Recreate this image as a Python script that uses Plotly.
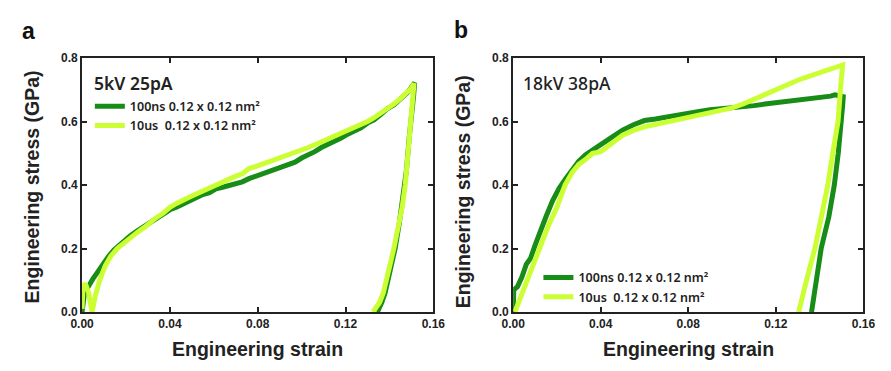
import plotly.graph_objects as go

W, H = 891, 371

# ---------------- data ----------------
# Panel a (5kV 25pA)
a_ns_x = [0.0, 0.0004, 0.0010, 0.0020, 0.0035, 0.005, 0.007, 0.0093, 0.012, 0.0145, 0.0168, 0.019, 0.022,
          0.025, 0.028, 0.031, 0.034, 0.037, 0.040, 0.043, 0.046, 0.049, 0.052, 0.055, 0.058, 0.061,
          0.064, 0.067, 0.070, 0.073, 0.076, 0.079, 0.082, 0.085, 0.088, 0.091, 0.094, 0.097, 0.100,
          0.103, 0.106, 0.109, 0.112, 0.115, 0.118, 0.121, 0.124, 0.127, 0.130, 0.133, 0.136, 0.139,
          0.142, 0.145, 0.148, 0.150, 0.1515,
          0.1510, 0.1500, 0.1490, 0.1478, 0.1462, 0.1445, 0.1426, 0.1410, 0.1396, 0.1380, 0.1365, 0.1345]
a_ns_y = [0.0, 0.03, 0.055, 0.07, 0.09, 0.105, 0.125, 0.15, 0.175, 0.195, 0.21, 0.225, 0.24,
          0.255, 0.268, 0.28, 0.295, 0.31, 0.322, 0.33, 0.34, 0.352, 0.36, 0.37, 0.376, 0.388,
          0.393, 0.398, 0.406, 0.41, 0.42, 0.428, 0.433, 0.44, 0.45, 0.458, 0.465, 0.472, 0.485,
          0.494, 0.505, 0.518, 0.527, 0.537, 0.548, 0.56, 0.568, 0.58, 0.595, 0.605, 0.622, 0.64,
          0.652, 0.67, 0.69, 0.708, 0.722,
          0.68, 0.62, 0.55, 0.45, 0.36, 0.28, 0.2, 0.15, 0.1, 0.06, 0.03, 0.0]

a_us_x = [0.0, 0.0004, 0.0015, 0.0030, 0.0040, 0.0046, 0.0060, 0.0080, 0.0105, 0.013, 0.016, 0.019,
          0.022, 0.025, 0.028, 0.031, 0.034, 0.037, 0.040, 0.043, 0.046, 0.049, 0.052, 0.055, 0.058,
          0.061, 0.064, 0.067, 0.070, 0.073, 0.076, 0.079, 0.082, 0.085, 0.088, 0.091, 0.094, 0.097,
          0.100, 0.103, 0.106, 0.109, 0.112, 0.115, 0.118, 0.121, 0.124, 0.127, 0.130, 0.133, 0.136,
          0.139, 0.142, 0.145, 0.148, 0.150, 0.1512,
          0.1505, 0.1494, 0.1484, 0.1472, 0.1458, 0.1440, 0.1420, 0.1403, 0.1388, 0.1372, 0.1355, 0.1325]
a_us_y = [0.01, 0.08, 0.09, 0.06, 0.02, 0.0, 0.05, 0.1, 0.145, 0.175, 0.2, 0.218,
          0.235, 0.25, 0.265, 0.283, 0.298, 0.312, 0.33, 0.342, 0.35, 0.362, 0.372, 0.382, 0.39,
          0.402, 0.41, 0.418, 0.428, 0.435, 0.452, 0.458, 0.465, 0.472, 0.48, 0.488, 0.495, 0.503,
          0.51, 0.518, 0.527, 0.536, 0.545, 0.553, 0.562, 0.57, 0.578, 0.588, 0.6, 0.612, 0.625,
          0.64, 0.655, 0.672, 0.69, 0.705, 0.72,
          0.66, 0.6, 0.5, 0.4, 0.33, 0.26, 0.2, 0.15, 0.1, 0.06, 0.03, 0.0]

# Panel b (18kV 38pA)
b_ns_x = [0.0, 0.0003, 0.002, 0.004, 0.006, 0.008, 0.010, 0.012, 0.015, 0.018, 0.021, 0.024, 0.027,
          0.030, 0.033, 0.036, 0.040, 0.045, 0.050, 0.055, 0.060, 0.065, 0.070, 0.075, 0.080, 0.085,
          0.090, 0.095, 0.100, 0.105, 0.110, 0.115, 0.120, 0.125, 0.130, 0.135, 0.140, 0.145, 0.147,
          0.149, 0.1508,
          0.1505, 0.1499, 0.1485, 0.1467, 0.1442, 0.1407, 0.1385, 0.1363]
b_ns_y = [0.0, 0.07, 0.08, 0.11, 0.15, 0.17, 0.21, 0.25, 0.3, 0.35, 0.39, 0.42, 0.45,
          0.475, 0.495, 0.51, 0.527, 0.55, 0.573, 0.59, 0.603, 0.608, 0.615, 0.62, 0.628, 0.632,
          0.637, 0.64, 0.643, 0.645, 0.65, 0.655, 0.659, 0.662, 0.668, 0.672, 0.676, 0.68, 0.684,
          0.679, 0.678,
          0.65, 0.6, 0.5, 0.4, 0.3, 0.2, 0.1, 0.0]

b_us_x = [0.0008, 0.003, 0.005, 0.008, 0.010, 0.013, 0.016, 0.020, 0.0237, 0.027, 0.030, 0.033,
          0.0363, 0.040, 0.045, 0.050, 0.055, 0.060, 0.070, 0.080, 0.090, 0.100, 0.105, 0.110,
          0.115, 0.120, 0.125, 0.130, 0.135, 0.140, 0.145, 0.149, 0.1505,
          0.1495, 0.1484, 0.1460, 0.1437, 0.1408, 0.1378, 0.1340, 0.1304]
b_us_y = [0.0, 0.04, 0.08, 0.13, 0.17, 0.22, 0.27, 0.33, 0.4, 0.44, 0.465, 0.48,
          0.5, 0.505, 0.53, 0.557, 0.572, 0.583, 0.598, 0.613, 0.628, 0.643, 0.655, 0.67,
          0.685, 0.704, 0.718, 0.73, 0.742, 0.754, 0.765, 0.772, 0.778,
          0.7, 0.6, 0.5, 0.4, 0.3, 0.2, 0.1, 0.0]

series_names = ["100ns 0.12 x 0.12 nm²", "10us  0.12 x 0.12 nm²"]
panel_titles = ["5kV 25pA", "18kV 38pA"]
x_title = "Engineering strain"
y_title = "Engineering stress (GPa)"
x_ticks = [0.0, 0.04, 0.08, 0.12, 0.16]
y_ticks = [0.0, 0.2, 0.4, 0.6, 0.8]

DARK = "#178C17"
LIGHT = "#CCFF33"
LW = 5

fig = go.Figure()
fig.add_trace(go.Scatter(x=a_ns_x, y=a_ns_y, mode="lines", name=series_names[0],
                         line=dict(color=DARK, width=LW), xaxis="x", yaxis="y", legend="legend"))
fig.add_trace(go.Scatter(x=a_us_x, y=a_us_y, mode="lines", name=series_names[1],
                         line=dict(color=LIGHT, width=LW), xaxis="x", yaxis="y", legend="legend"))
fig.add_trace(go.Scatter(x=b_ns_x, y=b_ns_y, mode="lines", name=series_names[0],
                         line=dict(color=DARK, width=LW), xaxis="x2", yaxis="y2", legend="legend2"))
fig.add_trace(go.Scatter(x=b_us_x, y=b_us_y, mode="lines", name=series_names[1],
                         line=dict(color=LIGHT, width=LW), xaxis="x2", yaxis="y2", legend="legend2"))

TICKFONT = dict(family="Liberation Sans, Arial", size=12, color="#222", weight="bold")
TITLEFONT = dict(family="Liberation Sans, Arial", size=19.5, color="#222", weight="bold")

ydom = [1 - 317 / H, 1 - 53 / H]
xdom_a = [72 / W, 433 / W]
xdom_b = [515 / W, 875 / W]

def xax(dom, anchor):
    return dict(domain=dom, anchor=anchor, range=[0, 0.16], tickvals=x_ticks,
                ticktext=[f"{v:.2f}" for v in x_ticks], showline=True, mirror="ticks",
                linecolor="#222", linewidth=2, ticks="inside", ticklen=5, tickwidth=2,
                tickcolor="#222", showgrid=False, zeroline=False, tickfont=TICKFONT)

def yax(anchor):
    return dict(domain=ydom, anchor=anchor, range=[0, 0.8], tickvals=y_ticks,
                ticktext=[f"{v:.1f}" for v in y_ticks], showline=True, mirror="ticks",
                linecolor="#222", linewidth=2, ticks="inside", ticklen=5, tickwidth=2,
                tickcolor="#222", showgrid=False, zeroline=False, tickfont=TICKFONT)

LEGFONT = dict(family="Noto Sans", size=12.5, color="#222", weight=600)

def paper_text(text, x, y, font, angle=0, xanchor="center"):
    return dict(text=text, x=x / W, y=1 - y / H, xref="paper", yref="paper", xanchor=xanchor,
                yanchor="middle", showarrow=False, textangle=angle, font=font)

fig.update_layout(
    width=W, height=H, margin=dict(l=0, r=0, t=0, b=0),
    paper_bgcolor="white", plot_bgcolor="white",
    xaxis=xax(xdom_a, "y"), yaxis=yax("x"),
    xaxis2=xax(xdom_b, "y2"), yaxis2=yax("x2"),
    legend=dict(x=80 / W, y=1 - 88 / H, xanchor="left", yanchor="top",
                bgcolor="rgba(0,0,0,0)", font=LEGFONT, tracegroupgap=0),
    legend2=dict(x=541 / W, y=1 - 266 / H, xanchor="left", yanchor="top",
                 bgcolor="rgba(0,0,0,0)", font=LEGFONT, tracegroupgap=0),
    showlegend=True,
    annotations=[
        paper_text("a", 8, 25, dict(family="Liberation Sans, Arial", size=23, color="#111", weight="bold"), xanchor="left"),
        paper_text("b", 452, 24, dict(family="Liberation Sans, Arial", size=23, color="#111", weight="bold"), xanchor="left"),
        paper_text(panel_titles[0], 82, 79, dict(family="Noto Sans", size=17.5, color="#222", weight=600), xanchor="left"),
        paper_text(panel_titles[1], 523, 79, dict(family="Noto Sans", size=17.5, color="#222", weight=500), xanchor="left"),
        paper_text(x_title, 252, 355, TITLEFONT),
        paper_text(x_title, 695, 355, TITLEFONT),
        paper_text(y_title, 20, 187, TITLEFONT, angle=-90),
        paper_text(y_title, 463, 192, TITLEFONT, angle=-90),
    ],
)

fig.write_html("out.html")
